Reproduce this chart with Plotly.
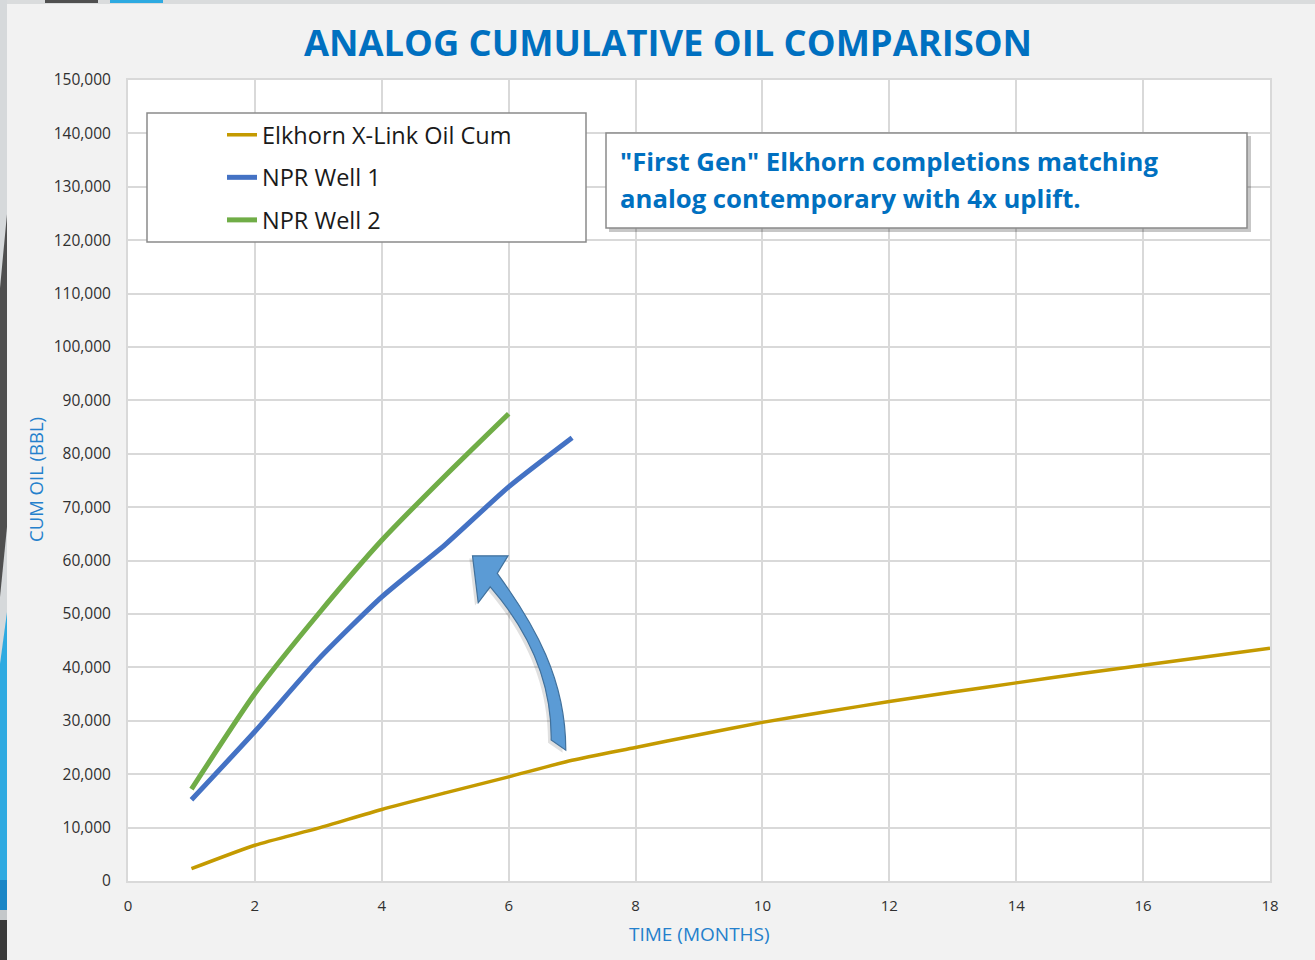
import plotly.graph_objects as go

# ---- data ----------------------------------------------------------------
elk_months = list(range(1, 19))
elk_cum = [2300, 6700, 9900, 13400, 16500, 19500, 22600, 25000, 27400,
           29700, 31700, 33600, 35400, 37100, 38800, 40400, 42000, 43600]

w1_months = [1, 2, 3, 4, 5, 6, 7]
w1_cum = [15200, 28000, 41500, 53200, 63000, 73800, 83000]

w2_months = [1, 2, 3, 4, 5, 6]
w2_cum = [17200, 35100, 50000, 63800, 75900, 87500]

series_names = ["Elkhorn X-Link Oil Cum", "NPR Well 1", "NPR Well 2"]
series_colors = ["#C49A00", "#4472C4", "#70AD47"]
series_widths = [3.5, 5, 5]

x_ticks = list(range(0, 19, 2))
y_ticks = list(range(0, 150001, 10000))

title_text = "ANALOG CUMULATIVE OIL COMPARISON"
note_lines = ['"First Gen" Elkhorn completions matching',
              "analog contemporary with 4x uplift."]

# ---- layout geometry (pixels) -------------------------------------------
W, H = 1315, 960
L, R, T, B = 128, 1270, 80, 881


def px_x(p):
    return (p - L) / (R - L)


def px_y(p):
    return (B - p) / (B - T)


FONT = "Open Sans"
BLUE = "#0070C0"

fig = go.Figure()
for i, (xs, ys) in enumerate([(elk_months, elk_cum), (w1_months, w1_cum), (w2_months, w2_cum)]):
    fig.add_trace(go.Scatter(
        x=xs, y=ys, mode="lines", name=series_names[i], legendgroup=f"g{i}",
        line=dict(color=series_colors[i], width=series_widths[i], shape="spline", smoothing=0.6),
    ))

shapes = []

# slide frame decorations on the left / top edge
def rect(x0, y0, x1, y1, color):
    return dict(type="rect", xref="paper", yref="paper", x0=px_x(x0), x1=px_x(x1),
                y0=px_y(y1), y1=px_y(y0), fillcolor=color, line=dict(width=0), layer="above")

def poly(points, color):
    d = "M " + " L ".join(f"{px_x(a):.5f},{px_y(b):.5f}" for a, b in points) + " Z"
    return dict(type="path", xref="paper", yref="paper", path=d, fillcolor=color,
                line=dict(width=0), layer="above")

shapes.append(rect(0, 0, W, 4, "#dadcdd"))
shapes.append(rect(45, 0, 98, 3, "#505050"))
shapes.append(rect(110, 0, 163, 3, "#2EAAE1"))
shapes.append(rect(0, 0, 7, H, "#d6d9db"))
shapes.append(poly([(7, 214), (7, 527), (0, 597), (0, 288)], "#4f4f4f"))
shapes.append(poly([(7, 612), (7, 880), (0, 880), (0, 664)], "#2EAAE1"))
shapes.append(rect(0, 880, 7, 910, "#1A86C6"))
shapes.append(rect(0, 910, 7, 920, "#c4c8ca"))
shapes.append(rect(0, 920, 7, H, "#3a3a3a"))

# legend frame
shapes.append(dict(type="rect", xref="paper", yref="paper",
                   x0=px_x(147), x1=px_x(586), y0=px_y(242), y1=px_y(113),
                   fillcolor="white", line=dict(color="#8a8a8a", width=1.5), layer="above"))

# callout box with soft shadow
shapes.append(dict(type="rect", xref="paper", yref="paper",
                   x0=px_x(609), x1=px_x(1251), y0=px_y(232), y1=px_y(136),
                   fillcolor="rgba(0,0,0,0.22)", line=dict(width=0), layer="above"))
shapes.append(dict(type="rect", xref="paper", yref="paper",
                   x0=px_x(606), x1=px_x(1247), y0=px_y(228), y1=px_y(133),
                   fillcolor="white", line=dict(color="#8a8a8a", width=1.5), layer="above"))

# curved block arrow (axis units)
arrow_path = (
    "M 5.43,60900 L 5.99,60900 L 5.82,57600 "
    "C 6.415,47940 6.904,37640 6.90,24500 "
    "L 6.67,26400 "
    "C 6.683,37640 6.274,47380 5.71,55100 "
    "L 5.52,52100 Z"
)
shadow_path = (
    "M 5.38,60400 L 5.94,60400 L 5.77,57100 "
    "C 6.365,47440 6.854,37140 6.85,24000 "
    "L 6.62,25900 "
    "C 6.633,37140 6.224,46880 5.66,54600 "
    "L 5.47,51600 Z"
)
shapes.append(dict(type="path", xref="x", yref="y", path=shadow_path,
                   fillcolor="rgba(0,0,0,0.12)", line=dict(width=0), layer="above"))
shapes.append(dict(type="path", xref="x", yref="y", path=arrow_path,
                   fillcolor="#5B9BD5", line=dict(color="#41719C", width=1.2), layer="above"))

annotations = [
    dict(text=note_lines[0], xref="paper", yref="paper", x=px_x(618), y=px_y(161),
         xanchor="left", yanchor="middle", showarrow=False,
         font=dict(family=FONT, size=25.7, color=BLUE, weight="bold")),
    dict(text=note_lines[1], xref="paper", yref="paper", x=px_x(618), y=px_y(198),
         xanchor="left", yanchor="middle", showarrow=False,
         font=dict(family=FONT, size=25.7, color=BLUE, weight="bold")),
    dict(text="TIME (MONTHS)", xref="paper", yref="paper", x=px_x(699), y=px_y(934),
         xanchor="center", yanchor="middle", showarrow=False,
         font=dict(family=FONT, size=19, color="#2480CC")),
    dict(text="CUM OIL (BBL)", xref="paper", yref="paper", x=px_x(35), y=px_y(480),
         xanchor="center", yanchor="middle", showarrow=False, textangle=-90,
         font=dict(family=FONT, size=18.5, color="#2480CC")),
]

fig.update_layout(
    width=W, height=H,
    margin=dict(l=L, r=W - R, t=T, b=H - B),
    paper_bgcolor="#f2f2f2", plot_bgcolor="white",
    title=dict(text=title_text, x=668 / W, xref="container", xanchor="center",
               y=1 - 43 / H, yref="container", yanchor="middle",
               font=dict(family=FONT, size=36.3, color=BLUE, weight="bold")),
    showlegend=True,
    legend=dict(x=px_x(222), y=px_y(113), xanchor="left", yanchor="top",
                bgcolor="rgba(0,0,0,0)", borderwidth=0, tracegroupgap=9,
                font=dict(family=FONT, size=23.5, color="#1a1a1a"),
                traceorder="grouped"),
    shapes=shapes,
    annotations=annotations,
)

fig.update_xaxes(range=[0, 18], tickvals=x_ticks, showgrid=True, gridcolor="#d9d9d9",
                 gridwidth=1.5, zeroline=False, showline=True, mirror=True,
                 linecolor="#d9d9d9", linewidth=2, ticks="", ticklabelstandoff=10,
                 tickfont=dict(family=FONT, size=15, color="#303030"))
fig.update_yaxes(range=[0, 150000], tickvals=y_ticks, tickformat=",", showgrid=True,
                 gridcolor="#d9d9d9", gridwidth=1.5, zeroline=False, showline=True,
                 mirror=True, linecolor="#d9d9d9", linewidth=2, ticks="",
                 ticklabelstandoff=12, tickfont=dict(family=FONT, size=15.5, color="#303030"))

fig.write_html("out.html")
